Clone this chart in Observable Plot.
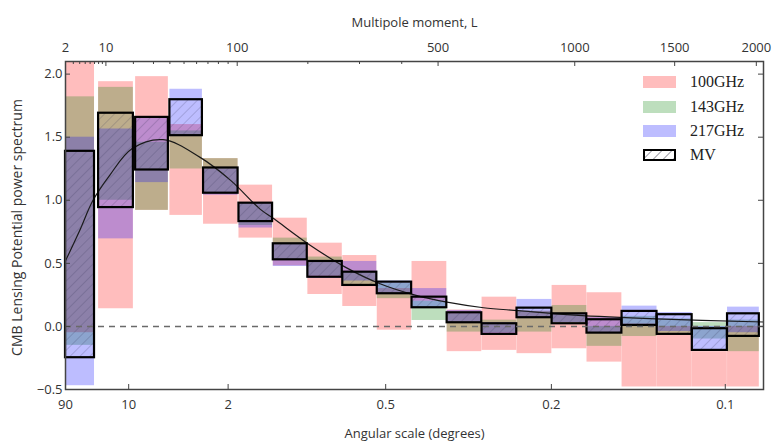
<!DOCTYPE html>
<html>
<head>
<meta charset="utf-8">
<script src="https://cdn.jsdelivr.net/npm/d3@7"></script>
<script src="https://cdn.jsdelivr.net/npm/@observablehq/plot@0.6"></script>
<style>
  body { margin: 0; background: #fff; }
  #wrap { position: relative; width: 777px; height: 445px; }
  .leg { position: absolute; left: 643px; display: flex; align-items: center; height: 20px;
         font-family: "Liberation Serif", "DejaVu Serif", serif; font-size: 16px; color: #222; }
  .sw { width: 33px; height: 12px; margin-right: 14px; box-sizing: border-box; }
</style>
</head>
<body>
<div id="wrap"></div>
<script>
// ---- data ----
const binLo = [2, 8, 21, 40, 66, 102, 146, 200, 265, 340, 427, 527, 639, 764, 903, 1055, 1222, 1404, 1601, 1814];
const binHi = [7, 20, 39, 65, 101, 145, 199, 264, 339, 426, 526, 638, 763, 902, 1054, 1221, 1403, 1600, 1813, 2020];

const ghz100Lo = [-0.05, 0.14, 0.92, 0.88, 0.81, 0.70, 0.48, 0.253, 0.158, -0.03, 0.20, -0.20, -0.19, -0.216, -0.177, -0.283, -0.48, -0.48, -0.48, -0.48];
const ghz100Hi = [2.10, 1.94, 1.98, 1.60, 1.33, 1.12, 0.858, 0.66, 0.562, 0.30, 0.515, 0.13, 0.232, 0.12, 0.325, 0.267, 0.02, 0.0, -0.20, 0.0];

const ghz143Lo = [-0.15, 1.00, 0.92, 1.248, 1.05, 0.80, 0.53, 0.40, 0.32, 0.22, 0.047, -0.045, -0.05, -0.045, 0.02, -0.158, -0.08, -0.06, -0.10, -0.20];
const ghz143Hi = [1.82, 1.895, 1.46, 1.55, 1.33, 0.98, 0.70, 0.55, 0.43, 0.34, 0.20, 0.10, 0.05, 0.12, 0.166, 0.0, 0.08, 0.06, 0.03, 0.05];

const ghz217Lo = [-0.47, 0.694, 1.14, 1.51, 1.04, 0.78, 0.475, 0.38, 0.36, 0.26, 0.15, 0.03, -0.06, 0.07, 0.03, -0.05, 0.01, -0.04, -0.19, -0.05];
const ghz217Hi = [1.50, 1.565, 1.65, 1.88, 1.25, 0.98, 0.65, 0.52, 0.515, 0.36, 0.30, 0.127, 0.03, 0.214, 0.10, 0.07, 0.161, 0.11, 0.0, 0.153];

const mvLo = [-0.248, 0.942, 1.24, 1.512, 1.056, 0.831, 0.528, 0.39, 0.325, 0.259, 0.148, 0.029, -0.063, 0.069, 0.021, -0.053, 0.008, -0.063, -0.19, -0.079];
const mvHi = [1.388, 1.69, 1.657, 1.797, 1.256, 0.977, 0.655, 0.515, 0.43, 0.351, 0.232, 0.108, 0.021, 0.145, 0.10, 0.053, 0.119, 0.093, -0.018, 0.10];

const theoryL = [2, 4, 6.65, 11.2, 19.5, 35.6, 63, 93, 128, 147, 202, 270, 345, 433, 531, 644, 770, 1000, 1400, 2048];
const theoryV = [0.52, 0.76, 1.0, 1.2, 1.41, 1.48, 1.34, 1.156, 0.93, 0.853, 0.65, 0.47, 0.34, 0.25, 0.19, 0.148, 0.125, 0.09, 0.06, 0.035];

const topTicks = [2, 10, 100, 500, 1000, 1500, 2000];
const topMinor = [3, 4, 5, 6, 7, 8, 9, 20, 30, 40, 50, 60, 70, 80, 90, 200, 300, 400];
const angLabels = ["90", "10", "2", "0.5", "0.2", "0.1"];
const angDeg = [90, 10, 2, 0.5, 0.2, 0.1];
const yTicks = [-0.5, 0, 0.5, 1.0, 1.5, 2.0];

const legendLabels = ["100GHz", "143GHz", "217GHz", "MV"];
const bandColors = ["red", "green", "blue"];

// ---- build tables ----
const rows = binLo.map((lo, i) => ({
  lo, hi: binHi[i],
  a1: ghz100Lo[i], a2: ghz100Hi[i],
  b1: ghz143Lo[i], b2: ghz143Hi[i],
  c1: ghz217Lo[i], c2: ghz217Hi[i],
  m1: mvLo[i], m2: mvHi[i]
}));
const theory = theoryL.map((L, i) => ({L, v: theoryV[i]}));
const angL = angDeg.map(d => 180 / d);
const angMap = new Map(angL.map((L, i) => [L, angLabels[i]]));

const W = 777, H = 445, mL = 65, mR = 14, mT = 61, mB = 56;
const plotW = W - mL - mR, plotH = H - mT - mB;
const yDomain = [-0.5, 2.1];
const fmtY = d3.format(".1f");
const alpha = 0.26;

const chart = Plot.plot({
  width: W, height: H,
  marginLeft: mL, marginRight: mR, marginTop: mT, marginBottom: mB,
  x: {type: "pow", exponent: 0.41, domain: [2, 2048], axis: null},
  y: {domain: yDomain, axis: null},
  style: {fontFamily: "'Open Sans', 'DejaVu Sans', sans-serif", fontSize: "13px", color: "#333", background: "white"},
  marks: [
    Plot.rect(rows, {x1: "lo", x2: "hi", y1: "a1", y2: "a2", fill: bandColors[0], fillOpacity: alpha}),
    Plot.rect(rows, {x1: "lo", x2: "hi", y1: "b1", y2: "b2", fill: bandColors[1], fillOpacity: alpha}),
    Plot.rect(rows, {x1: "lo", x2: "hi", y1: "c1", y2: "c2", fill: bandColors[2], fillOpacity: alpha}),
    Plot.line(theory, {x: "L", y: "v", curve: "catmull-rom", stroke: "#1a1a1a", strokeWidth: 1.2}),
    Plot.rect(rows, {x1: "lo", x2: "hi", y1: "m1", y2: "m2", fill: "url(#mvhatch)", stroke: "black", strokeWidth: 2.2}),
    Plot.ruleY([0], {stroke: "#6a6a6a", strokeWidth: 1.5, strokeDasharray: "6,5"}),
    Plot.frame({stroke: "#444", strokeWidth: 1.5}),
    // inward ticks
    Plot.ruleX(topTicks, {x: d => d, insetBottom: plotH - 5, stroke: "#444"}),
    Plot.ruleX(topMinor, {x: d => d, insetBottom: plotH - 3, stroke: "#444"}),
    Plot.ruleX(angL, {x: d => d, insetTop: plotH - 5, stroke: "#444"}),
    Plot.ruleY(yTicks, {y: d => d, insetRight: plotW - 5, stroke: "#444"}),
    Plot.ruleY(yTicks, {y: d => d, insetLeft: plotW - 5, stroke: "#444"}),
    // tick labels
    Plot.axisX({anchor: "top", ticks: topTicks, tickFormat: d => String(d), tickSize: 0, tickPadding: 10, label: null, fill: "#333"}),
    Plot.axisX({anchor: "bottom", ticks: angL, tickFormat: d => angMap.get(d), tickSize: 0, tickPadding: 10, label: null, fill: "#333"}),
    Plot.axisY({anchor: "left", ticks: yTicks, tickFormat: d => fmtY(d), tickSize: 0, tickPadding: 3, label: null, fill: "#333"}),
    // axis titles
    Plot.text(["Multipole moment, L"], {text: d => d, frameAnchor: "top", dy: -44, fill: "#333"}),
    Plot.text(["Angular scale (degrees)"], {text: d => d, frameAnchor: "bottom", dy: 48, fill: "#333"}),
    Plot.text(["CMB Lensing Potential power spectrum"], {text: d => d, frameAnchor: "left", textAnchor: "middle", dx: -48, dy: 2, rotate: -90, fontSize: 14, fill: "#333"})
  ]
});

// hatch pattern for MV boxes
const svg = d3.select(chart);
const pat = svg.insert("defs", ":first-child").append("pattern")
  .attr("id", "mvhatch").attr("patternUnits", "userSpaceOnUse")
  .attr("width", 7).attr("height", 7).attr("patternTransform", "rotate(45)");
pat.append("line").attr("x1", 0).attr("y1", 0).attr("x2", 0).attr("y2", 7)
  .attr("stroke", "#335").attr("stroke-width", 1.1).attr("stroke-opacity", 0.38);

const wrap = document.getElementById("wrap");
wrap.appendChild(chart);

// legend (inside the plot area, top right)
const swatchStyles = [
  `background: rgba(255,0,0,${alpha});`,
  `background: rgba(0,128,0,${alpha});`,
  `background: rgba(0,0,255,${alpha});`,
  `background: repeating-linear-gradient(-45deg, rgba(40,40,60,0.3) 0 1px, #fff 1px 7px); border: 2px solid #000;`
];
const legTop = [72, 97, 121, 145];
legendLabels.forEach((lab, i) => {
  const d = document.createElement("div");
  d.className = "leg";
  d.style.top = legTop[i] + "px";
  d.innerHTML = `<div class="sw" style="${swatchStyles[i]}"></div><span>${lab}</span>`;
  wrap.appendChild(d);
});
</script>
</body>
</html>
